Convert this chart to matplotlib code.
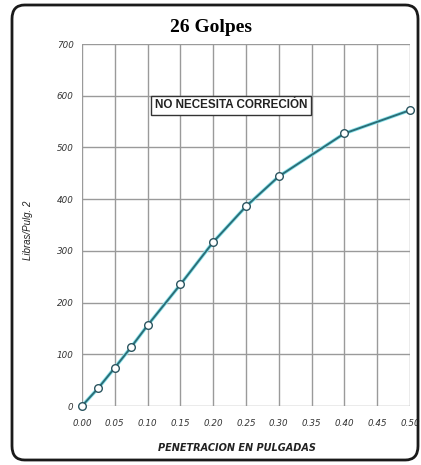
import matplotlib
matplotlib.use("Agg")
import matplotlib.pyplot as plt
from matplotlib.patches import FancyBboxPatch

# Penetration (inches) vs. load (lb/in^2)
penetration = [0.00, 0.025, 0.05, 0.075, 0.10, 0.15, 0.20, 0.25, 0.30, 0.40, 0.50]
load = [0, 35, 74, 114, 156, 235, 317, 386, 444, 527, 572]

x_ticks = [0.00, 0.05, 0.10, 0.15, 0.20, 0.25, 0.30, 0.35, 0.40, 0.45, 0.50]
x_tick_labels = ["0.00", "0.05", "0.10", "0.15", "0.20", "0.25", "0.30",
                 "0.35", "0.40", "0.45", "0.50"]
y_ticks = [0, 100, 200, 300, 400, 500, 600, 700]

title = "26 Golpes"
note = "NO NECESITA CORRECIÓN"
x_label = "PENETRACION EN PULGADAS"
y_label = "Libras/Pulg. 2"

W, H = 421, 465
fig = plt.figure(figsize=(W / 100, H / 100), dpi=100)
fig.patch.set_facecolor("white")

# rounded frame around the whole chart
frame = FancyBboxPatch((12 / W, 5 / H), (418 - 12) / W, (460 - 5) / H,
                       boxstyle="round,pad=0,rounding_size=0.03",
                       transform=fig.transFigure, fill=False,
                       edgecolor="#1a1a1a", linewidth=2.0)
fig.patches.append(frame)

left, right, top, bottom = 82, 410, 44, 406
ax = fig.add_axes([left / W, 1 - bottom / H, (right - left) / W, (bottom - top) / H])

ax.set_xlim(0, 0.5)
ax.set_ylim(0, 700)
ax.set_xticks(x_ticks)
ax.set_xticklabels(x_tick_labels)
ax.set_yticks(y_ticks)
ax.grid(True, color="#9a9a9a", linewidth=1.0)
ax.set_axisbelow(True)
for side in ["left", "right", "top", "bottom"]:
    ax.spines[side].set_visible(False)
ax.tick_params(length=0)
ax.tick_params(axis="y", pad=6)
ax.tick_params(axis="x", pad=9)

for lbl in ax.get_xticklabels() + ax.get_yticklabels():
    lbl.set_fontfamily(["Liberation Sans Narrow", "DejaVu Sans"])
    lbl.set_fontstyle("italic")
    lbl.set_fontsize(6.3)
    lbl.set_color("#333333")

# curve with a soft cyan halo
ax.plot(penetration, load, color="#8fe6ee", linewidth=2.6, solid_capstyle="round", zorder=3)
ax.plot(penetration, load, color="#2b6e78", linewidth=1.4, zorder=4,
        marker="o", markersize=5.5, markerfacecolor="white",
        markeredgecolor="#2b5560", markeredgewidth=1.0, clip_on=False)

fig.text(211 / W, 1 - 28 / H, title, ha="center", va="center",
         family=["Liberation Serif", "DejaVu Serif"], weight="bold", fontsize=14)

ax.text(0.454, 0.831, note, transform=ax.transAxes, ha="center", va="center",
        family=["Liberation Sans", "DejaVu Sans"], weight="bold", fontsize=8.4,
        color="#222222",
        bbox=dict(boxstyle="square,pad=0.3", facecolor="white",
                  edgecolor="#333333", linewidth=1.0), zorder=5)

fig.text(237 / W, 1 - 448 / H, x_label, ha="center", va="center",
         family=["Liberation Sans Narrow", "DejaVu Sans"], style="italic",
         weight="bold", fontsize=7.0, color="#222222")
fig.text(28 / W, 1 - 230 / H, y_label, ha="center", va="center", rotation=90,
         family=["Liberation Sans", "DejaVu Sans"], style="italic",
         fontsize=7.0, color="#222222")

fig.savefig("out.png", dpi=100, facecolor="white")
